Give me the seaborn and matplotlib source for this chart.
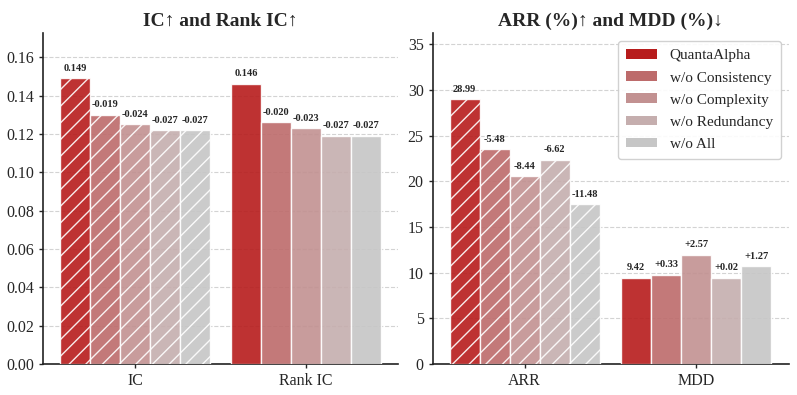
import matplotlib
matplotlib.use("Agg")
import matplotlib.pyplot as plt
import seaborn as sns
import pandas as pd
from matplotlib.patches import Patch

variants = ["QuantaAlpha", "w/o Consistency", "w/o Complexity", "w/o Redundancy", "w/o All"]
colors = ["#b71c1c", "#bd6b6b", "#c29191", "#c5aeae", "#c6c6c6"]

left_metrics = ["IC", "Rank IC"]
ic_vals = [0.149, 0.130, 0.125, 0.122, 0.122]
rankic_vals = [0.146, 0.126, 0.123, 0.119, 0.119]
ic_labels = ["0.149", "-0.019", "-0.024", "-0.027", "-0.027"]
rankic_labels = ["0.146", "-0.020", "-0.023", "-0.027", "-0.027"]

right_metrics = ["ARR", "MDD"]
arr_vals = [28.99, 23.51, 20.55, 22.37, 17.51]
mdd_vals = [9.42, 9.75, 11.99, 9.44, 10.69]
arr_labels = ["28.99", "-5.48", "-8.44", "-6.62", "-11.48"]
mdd_labels = ["9.42", "+0.33", "+2.57", "+0.02", "+1.27"]

sns.set_style("white")
plt.rcParams["font.family"] = ["Liberation Serif", "DejaVu Serif"]
plt.rcParams["hatch.color"] = "white"
plt.rcParams["hatch.linewidth"] = 1.0

fig = plt.figure(figsize=(7.97, 3.95), dpi=100)
ax1 = fig.add_axes([0.054, 0.078, 0.445, 0.838])
ax2 = fig.add_axes([0.543, 0.078, 0.447, 0.838])

def draw(ax, metrics, vals_a, vals_b, labels_a, labels_b, ylim, yticks, fmt, title, hatch_metric, xlim):
    rows = []
    for v, a, b in zip(variants, vals_a, vals_b):
        rows.append({"metric": metrics[0], "variant": v, "value": a})
        rows.append({"metric": metrics[1], "variant": v, "value": b})
    df = pd.DataFrame(rows)
    sns.barplot(data=df, x="metric", y="value", hue="variant", order=metrics,
                hue_order=variants, palette=colors, saturation=1, width=0.875, gap=0,
                ax=ax, errorbar=None, alpha=0.9, edgecolor="white",
                linewidth=1.0, legend=False, zorder=3)
    lab_map = {}
    for i, v in enumerate(variants):
        lab_map[(metrics[0], i)] = labels_a[i]
        lab_map[(metrics[1], i)] = labels_b[i]
    patches = [p for p in ax.patches if p.get_height() > 0]
    patches = sorted(patches, key=lambda p: p.get_x())
    for k, p in enumerate(patches):
        grp = k // 5
        idx = k % 5
        m = metrics[grp]
        if m == hatch_metric:
            p.set_hatch("//")
        cx = p.get_x() + p.get_width() / 2
        ax.annotate(lab_map[(m, idx)], (cx, p.get_height()), xytext=(0, 4),
                    textcoords="offset points", ha="center", va="bottom",
                    fontsize=7.5, fontweight="bold")
    ax.set_ylim(*ylim)
    ax.set_xlim(*xlim)
    ax.set_yticks(yticks)
    ax.set_yticklabels([fmt.format(t) for t in yticks], fontsize=11.5)
    ax.tick_params(axis="x", labelsize=11.5, length=3, width=1, bottom=True)
    ax.tick_params(axis="y", length=3, width=1, left=True)
    ax.set_xlabel("")
    ax.set_ylabel("")
    ax.grid(axis="y", linestyle="--", color="#d3d3d3", linewidth=0.8, zorder=0)
    ax.set_axisbelow(True)
    for s in ["top", "right"]:
        ax.spines[s].set_visible(False)
    for s in ["left", "bottom"]:
        ax.spines[s].set_color("#222222")
        ax.spines[s].set_linewidth(1.2)
    ax.set_title(title, fontsize=14, fontweight="bold", pad=5)

draw(ax1, left_metrics, ic_vals, rankic_vals, ic_labels, rankic_labels,
     (0, 0.1725), [0, 0.02, 0.04, 0.06, 0.08, 0.10, 0.12, 0.14, 0.16], "{:.2f}",
     "IC\u2191 and Rank IC\u2191", "IC", (-0.538, 1.538))
draw(ax2, right_metrics, arr_vals, mdd_vals, arr_labels, mdd_labels,
     (0, 36.2), [0, 5, 10, 15, 20, 25, 30, 35], "{:d}",
     "ARR (%)\u2191 and MDD (%)\u2193", "ARR", (-0.535, 1.54))

handles = [Patch(facecolor=c, edgecolor="none", label=v) for c, v in zip(colors, variants)]
ax2.legend(handles=handles, loc="upper right", fontsize=11, frameon=True,
           framealpha=0.9, edgecolor="#cccccc", borderaxespad=0.5,
           handlelength=2.0, handleheight=0.6, labelspacing=0.58, borderpad=0.55,
           handletextpad=0.85)

fig.savefig("out.png", dpi=100)
